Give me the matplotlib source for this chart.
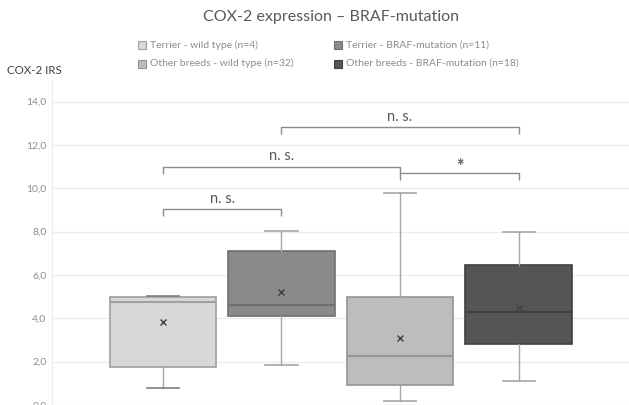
import matplotlib
matplotlib.use("Agg")
import matplotlib.pyplot as plt

# ---- data ----
series = ["Terrier - wild type (n=4)", "Terrier - BRAF-mutation (n=11)",
          "Other breeds - wild type (n=32)", "Other breeds - BRAF-mutation (n=18)"]
q1 = [1.77, 4.10, 0.92, 2.80]
medians = [4.77, 4.62, 2.26, 4.31]
q3 = [5.00, 7.12, 5.00, 6.46]
whislo = [0.77, 1.85, 0.20, 1.12]
whishi = [5.05, 8.05, 9.77, 7.97]
means = [3.82, 5.23, 3.08, 4.49]
fills = ["#d8d8d8", "#8a8a8a", "#bdbdbd", "#555555"]
edges = ["#a0a0a0", "#707070", "#959595", "#404040"]
yticks = [0, 2, 4, 6, 8, 10, 12, 14]
ytick_labels = ["0,0", "2,0", "4,0", "6,0", "8,0", "10,0", "12,0", "14,0"]
# significance brackets: (from box, to box, height, label)
brackets = [(1, 2, 9.04, "n. s."), (1, 3, 11.0, "n. s."),
            (2, 4, 12.84, "n. s."), (3, 4, 10.72, "*")]

plt.rcParams['font.family'] = ['Lato', 'DejaVu Sans']

fig = plt.figure(figsize=(6.29, 4.05), dpi=100)
ax = fig.add_axes([52 / 629, 0.0, 1 - 52 / 629, (405 - 80) / 405])

positions = [1, 2, 3, 4]
stats = []
for i in range(4):
    stats.append(dict(med=medians[i], q1=q1[i], q3=q3[i], whislo=whislo[i],
                      whishi=whishi[i], mean=means[i], fliers=[], label=series[i]))

for i, s in enumerate(stats):
    ax.bxp([s], positions=[positions[i]], widths=0.9, patch_artist=True,
           showmeans=True, showfliers=False,
           boxprops=dict(facecolor=fills[i], edgecolor=edges[i], linewidth=1.2),
           medianprops=dict(color=edges[i], linewidth=1.5),
           whiskerprops=dict(color="#a6a6a6", linewidth=1.0),
           capprops=dict(color="#a6a6a6" if i != 0 else "#808080", linewidth=1.2),
           capwidths=0.27,
           meanprops=dict(marker="x", markeredgecolor="#404040", markersize=4,
                          markeredgewidth=1.0))

ax.set_xlim(0.065, 4.93)
ax.set_ylim(0, 15)
ax.set_yticks(yticks)
ax.set_yticklabels(ytick_labels, fontsize=7.5, color="#8c8c8c")
ax.set_xticks([])
ax.tick_params(axis="y", length=0, pad=4)
ax.grid(axis="y", color="#ececec", linewidth=0.8)
ax.set_axisbelow(True)
for sp in ["top", "right", "bottom"]:
    ax.spines[sp].set_visible(False)
ax.spines["left"].set_color("#ececec")

tick = 0.33
for a, b, h, lab in brackets:
    ax.plot([a, a, b, b], [h - tick, h, h, h - tick], color="#8c8c8c", lw=1.0,
            solid_capstyle="butt", clip_on=False)
    if lab == "*":
        ax.text((a + b) / 2, h - 0.1, lab, ha="center", va="bottom",
                fontsize=13, fontweight="bold", color="#595959")
    else:
        ax.text((a + b) / 2, h + 0.15, lab, ha="center", va="bottom",
                fontsize=10.5, color="#595959")

fig.text(331 / 629, 1 - 17 / 405, "COX-2 expression \u2013 BRAF-mutation",
         ha="center", va="center", fontsize=11.5, color="#595959")
fig.text(7 / 629, 1 - 71 / 405, "COX-2 IRS", ha="left", va="center",
         fontsize=8.3, color="#404040")

# legend
leg_pos = [(142, 45), (338, 45), (142, 63.5), (338, 63.5)]
order = [0, 1, 2, 3]
for k, (px, py) in zip(order, leg_pos):
    fig.patches.append(plt.Rectangle(((px - 4) / 629, 1 - (py + 4) / 405),
                                     8 / 629, 8 / 405, transform=fig.transFigure,
                                     facecolor=fills[k], edgecolor=edges[k], lw=0.8))
    fig.text((px + 8) / 629, 1 - py / 405, series[k], ha="left", va="center",
             fontsize=7.5, color="#8c8c8c")

fig.savefig("out.png", dpi=100)
